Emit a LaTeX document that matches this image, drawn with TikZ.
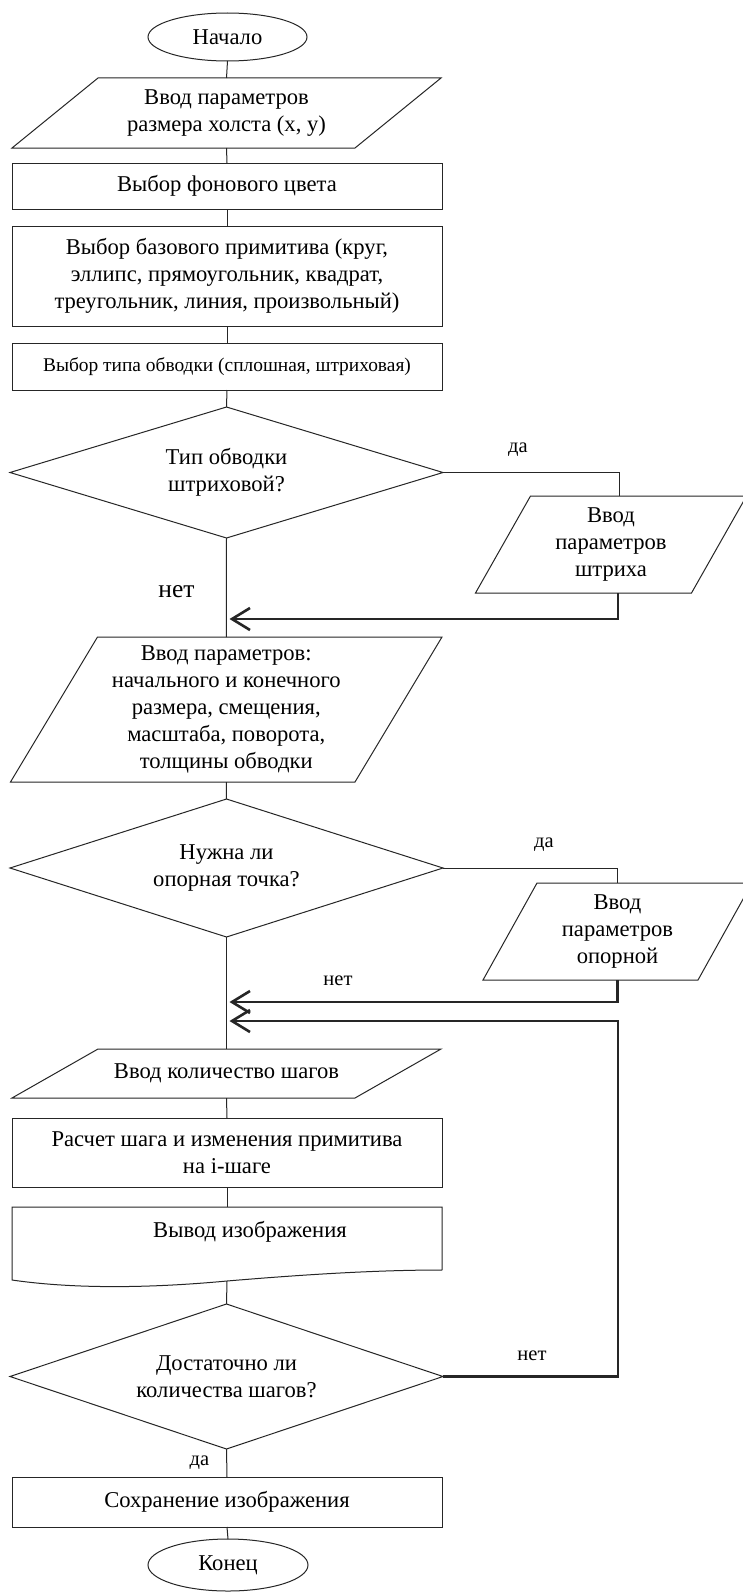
\documentclass[tikz,border=0pt]{standalone}
\usepackage{fontspec}
\setmainfont{Liberation Serif}
\usetikzlibrary{shapes.geometric,arrows.meta}
\newcommand\mainsz{\fontsize{22.6}{27}\selectfont}
\newcommand\boxsmsz{\fontsize{19.4}{23}\selectfont}
\newcommand\smallsz{\fontsize{20.5}{24}\selectfont}
\newcommand\bigsz{\fontsize{25.5}{30}\selectfont}
\newcommand\paraframe[2]{\draw[ln] ([xshift=#2/2]#1.north west) -- ([xshift=#2/2]#1.north east) -- ([xshift=-#2/2]#1.south east) -- ([xshift=-#2/2]#1.south west) -- cycle;}
\newcommand\diamframe[1]{\draw[ln] (#1.north) -- (#1.east) -- (#1.south) -- (#1.west) -- cycle;}
\begin{document}
\begin{tikzpicture}[x=1pt,y=-1pt,
 ln/.style={draw=black!85,line width=1pt},
 flow/.style={draw=black!85,line width=2.6pt,-{Straight Barb[length=18pt,width=22pt]}},
 base/.style={font=\mainsz,align=center,inner sep=0pt,outer sep=0pt},
 blk/.style={base,draw=black!85,line width=1pt,rectangle,minimum width=430pt},
 io/.style={base,rectangle,draw=none},
 dec/.style={base,rectangle,draw=none,minimum width=433pt},
 term/.style={base,draw=black!85,line width=1pt,ellipse,minimum width=159pt},
 lab/.style={font=\smallsz,inner sep=0pt,anchor=base},
 labbig/.style={font=\bigsz,inner sep=0pt,anchor=base},
]
\clip (0,0) rectangle (743,1592);
\fill[white] (0,0) rectangle (743,1592);

% nodes
\node[term,minimum height=48pt] (start) at (227.5,37) {Начало};
\node[io,minimum width=343pt,minimum height=70pt] (in1) at (226.5,113) {Ввод параметров\\размера холста (x, y)};
\paraframe{in1}{86}
\node[blk,minimum height=46pt] (r2) at (227,186) {Выбор фонового цвета};
\node[blk,minimum height=100pt] (r3) at (227,276) {Выбор базового примитива (круг,\\эллипс, прямоугольник, квадрат,\\треугольник, линия, произвольный)};
\node[blk,minimum height=47pt,font=\boxsmsz] (r4) at (227,366.5) {Выбор типа обводки (сплошная, штриховая)};
\node[dec,minimum height=131pt] (d1) at (226.5,472.5) {Тип обводки\\штриховой?};
\diamframe{d1}
\node[io,minimum width=216pt,minimum height=97pt] (in2) at (611,544.5) {Ввод\\параметров\\штриха};
\paraframe{in2}{55}
\node[io,minimum width=344.5pt,minimum height=145pt] (in3) at (226.25,709.5) {Ввод параметров:\\начального и конечного\\размера, смещения,\\масштаба, поворота,\\толщины обводки};
\paraframe{in3}{87}
\node[dec,minimum height=138pt] (d2) at (226.5,868) {Нужна ли\\опорная точка?};
\diamframe{d2}
\node[io,minimum width=215pt,minimum height=97pt] (in4) at (617.5,931.5) {Ввод\\параметров\\опорной};
\paraframe{in4}{54}
\node[io,minimum width=343pt,minimum height=49pt] (in5) at (226.5,1073.5) {Ввод количество шагов};
\paraframe{in5}{86}
\node[blk,minimum height=69pt] (r6) at (227,1152.5) {Расчет шага и изменения примитива\\на i-шаге};
\node[io,minimum width=430pt,minimum height=63pt] (doc) at (227,1238.5) {};
\draw[ln] (doc.south east) -- (doc.north east) -- (doc.north west) -- (12,1280)
  .. controls (60,1287) and (130,1290) .. (227,1281) coordinate (docb)
  .. controls (310,1274) and (380,1270) .. (doc.south east);
\node[base] (doctext) at (250,1232) {Вывод изображения};
\node[dec,minimum height=145pt] (d3) at (226.5,1376.5) {Достаточно ли\\количества шагов?};
\diamframe{d3}
\node[blk,minimum height=50pt] (r7) at (227,1502) {Сохранение изображения};
\node[term,minimum height=52pt,minimum width=160pt] (end) at (228,1565) {Конец};

% junctions
\coordinate (j1) at (229.5,619);
\coordinate (j2) at (229.5,1002);
\coordinate (j3) at (229.5,1021);
\coordinate (lp) at (618,1021);

% connectors
\draw[ln] (start.south) -- (in1.north);
\draw[ln] (in1.south) -- (r2.north);
\draw[ln] (r2.south) -- (r3.north);
\draw[ln] (r3.south) -- (r4.north);
\draw[ln] (r4.south) -- (d1.north);
\draw[ln] (d1.east) -| ([xshift=8pt]in2.north);
\draw[ln] (d1.south) -- (in3.north);
\draw[flow] ([xshift=7pt]in2.south) |- (j1);
\draw[ln] (in3.south) -- (d2.north);
\draw[ln] (d2.east) -| (in4.north);
\draw[flow] (in4.south) |- (j2);
\draw[ln] (d2.south) -- (in5.north);
\draw[ln] (in5.south) -- (r6.north);
\draw[ln] (r6.south) -- (doc.north);
\draw[ln] (docb) -- (d3.north);
\draw[flow] (d3.east) -| (lp) -- (j3);
\draw[ln] (d3.south) -- (r7.north);
\draw[ln] (r7.south) -- (end.north);

% labels
\node[lab] (l1) at (518,452) {да};
\node[labbig] (l2) at (176.5,597) {нет};
\node[lab] (l3) at (544,847) {да};
\node[lab] (l4) at (338,985) {нет};
\node[lab] (l5) at (532,1360) {нет};
\node[lab] (l6) at (199.5,1465) {да};
\end{tikzpicture}
\end{document}
